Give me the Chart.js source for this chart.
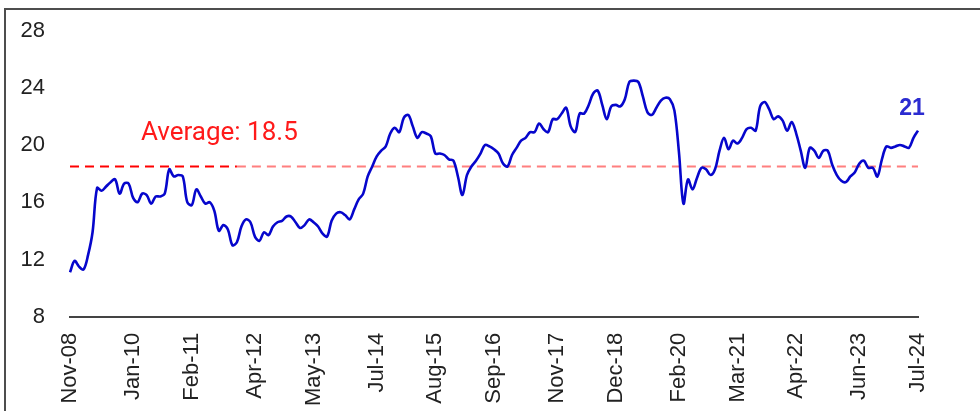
<!DOCTYPE html>
<html><head><meta charset="utf-8">
<script src="https://cdn.jsdelivr.net/npm/chart.js@4.4.0/dist/chart.umd.min.js"></script>
<style>
html,body{margin:0;padding:0;background:#fff;}
#wrap{position:relative;width:980px;height:411px;overflow:hidden;background:#fff;}
#frame{position:absolute;left:4px;top:8px;width:1000px;height:500px;border-top:2px solid #4d4d4d;border-left:2px solid #4d4d4d;}
canvas{position:absolute;left:0;top:0;}
</style></head><body>
<div id="wrap"><div id="frame"></div><canvas id="c" width="980" height="411"></canvas></div>
<script>
// Series values (monthly, Nov-08 .. Jul-24)
const values = [
  11.1, 11.9, 11.5, 11.3, 12.3, 13.9, 17.0, 16.8, 17.1, 17.4,
  17.6, 16.6, 17.3, 17.3, 16.3, 16.0, 16.6, 16.5, 15.9, 16.4,
  16.4, 16.6, 18.3, 17.8, 17.9, 17.8, 16.0, 15.8, 16.9, 16.4,
  15.9, 16.0, 15.4, 14.0, 14.4, 14.1, 13.0, 13.2, 14.3, 14.8,
  14.6, 13.6, 13.3, 13.9, 13.7, 14.3, 14.6, 14.7, 15.0, 15.0,
  14.6, 14.2, 14.4, 14.8, 14.6, 14.3, 13.8, 13.6, 14.7, 15.2,
  15.3, 15.1, 14.8, 15.5, 16.2, 16.6, 17.8, 18.5, 19.2, 19.6,
  19.9, 20.8, 21.2, 20.9, 21.9, 22.1, 21.3, 20.5, 20.9, 20.8,
  20.6, 19.4, 19.4, 19.3, 19.0, 18.9, 17.8, 16.5, 17.9, 18.5,
  18.9, 19.4, 20.0, 19.9, 19.7, 19.4, 18.7, 18.5, 19.3, 19.8,
  20.3, 20.5, 20.9, 20.9, 21.5, 21.1, 20.9, 21.8, 21.8, 22.2,
  22.6, 21.3, 20.9, 22.2, 22.2, 22.8, 23.6, 23.8, 22.8, 21.8,
  22.7, 22.8, 22.7, 23.2, 24.4, 24.5, 24.4, 23.4, 22.3, 22.1,
  22.6, 23.1, 23.3, 23.2, 22.4, 19.5, 15.9, 17.6, 16.9, 17.7,
  18.4, 18.3, 17.9, 18.3, 19.6, 20.5, 19.7, 20.3, 20.1, 20.5,
  21.1, 21.2, 21.0, 22.7, 23.0, 22.5, 21.8, 22.0, 21.7, 21.0,
  21.6, 20.8, 19.6, 18.4, 19.8, 19.6, 19.1, 19.6, 19.6, 18.6,
  17.9, 17.5, 17.4, 17.8, 18.1, 18.7, 18.9, 18.4, 18.4, 17.8,
  19.0, 19.9, 19.8, 19.9, 20.0, 19.9, 19.8, 20.5, 21.0
];
const AVERAGE = 18.5;
const AVG_SPLIT_INDEX = 37; // where the dashed line changes shade
const tickLabels = ['Nov-08','Jan-10','Feb-11','Apr-12','May-13','Jul-14','Aug-15','Sep-16',
                    'Nov-17','Dec-18','Feb-20','Mar-21','Apr-22','Jun-23','Jul-24'];
const yTicks = [8, 12, 16, 20, 24, 28];
const monthNames = ['Jan','Feb','Mar','Apr','May','Jun','Jul','Aug','Sep','Oct','Nov','Dec'];

// Category labels: consecutive months starting Nov-08
const categories = values.map((_, i) => {
  const m = (10 + i) % 12;
  const y = 2008 + Math.floor((10 + i) / 12);
  return monthNames[m] + '-' + String(y % 100).padStart(2, '0');
});

const avgA = values.map((_, i) => i <= AVG_SPLIT_INDEX ? AVERAGE : null);
const avgB = values.map((_, i) => i >= AVG_SPLIT_INDEX ? AVERAGE : null);

const labelPlugin = {
  id: 'labels',
  afterDatasetsDraw(chart) {
    const {ctx, chartArea, scales} = chart;
    const ys = scales.y, xs = scales.x;
    ctx.save();
    // Average label
    ctx.fillStyle = '#ff1a1a';
    ctx.font = '26px Roboto';
    ctx.textAlign = 'left';
    ctx.textBaseline = 'alphabetic';
    ctx.fillText('Average: ' + AVERAGE.toFixed(1), chartArea.left + 71, ys.getPixelForValue(AVERAGE) - 26);
    // End value label
    const last = values.length - 1;
    ctx.fillStyle = '#2b2bd0';
    ctx.font = 'bold 23px "Liberation Sans"';
    ctx.textAlign = 'center';
    ctx.textBaseline = 'middle';
    ctx.fillText(String(Math.round(values[last])), xs.getPixelForValue(last) - 6, ys.getPixelForValue(values[last]) - 22);
    ctx.restore();
  }
};

new Chart(document.getElementById('c'), {
  type: 'line',
  data: {
    labels: categories,
    datasets: [
      { data: values, borderColor: '#0606cc', borderWidth: 2.6, pointRadius: 0, tension: 0.35, fill: false, order: 0 },
      { data: avgA, borderColor: '#ff0000', borderWidth: 2, borderDash: [9, 6], pointRadius: 0, fill: false, spanGaps: false, order: 1 },
      { data: avgB, borderColor: '#ff7f7f', borderWidth: 2, borderDash: [9, 6], pointRadius: 0, fill: false, spanGaps: false, order: 1 }
    ]
  },
  options: {
    responsive: false,
    animation: false,
    devicePixelRatio: 1,
    layout: { padding: { top: 30.5, right: 62, left: 0, bottom: 0 } },
    plugins: { legend: { display: false }, tooltip: { enabled: false } },
    scales: {
      x: {
        type: 'category',
        offset: false,
        grid: { display: false, drawTicks: false },
        border: { display: true, color: '#444', width: 2 },
        ticks: {
          autoSkip: false, maxRotation: 90, minRotation: 90, padding: 16,
          color: '#222', font: { family: 'Liberation Sans', size: 22 },
          callback(v) { const l = this.getLabelForValue(v); return tickLabels.includes(l) ? l : null; }
        },
        afterFit(s) { s.height = 94.3; s.paddingTop = 0; s.paddingBottom = 0; s.paddingLeft = 0; s.paddingRight = 0; }
      },
      y: {
        min: yTicks[0], max: yTicks[yTicks.length - 1],
        grid: { display: false, drawTicks: false },
        border: { display: false },
        afterBuildTicks(s) { s.ticks = yTicks.map(v => ({ value: v })); },
        ticks: { padding: 25, color: '#222', font: { family: 'Liberation Sans', size: 22 } },
        afterFit(s) { s.width = 70; s.paddingTop = 0; s.paddingBottom = 0; s.paddingLeft = 0; s.paddingRight = 0; }
      }
    }
  },
  plugins: [labelPlugin]
});
</script>
</body></html>
